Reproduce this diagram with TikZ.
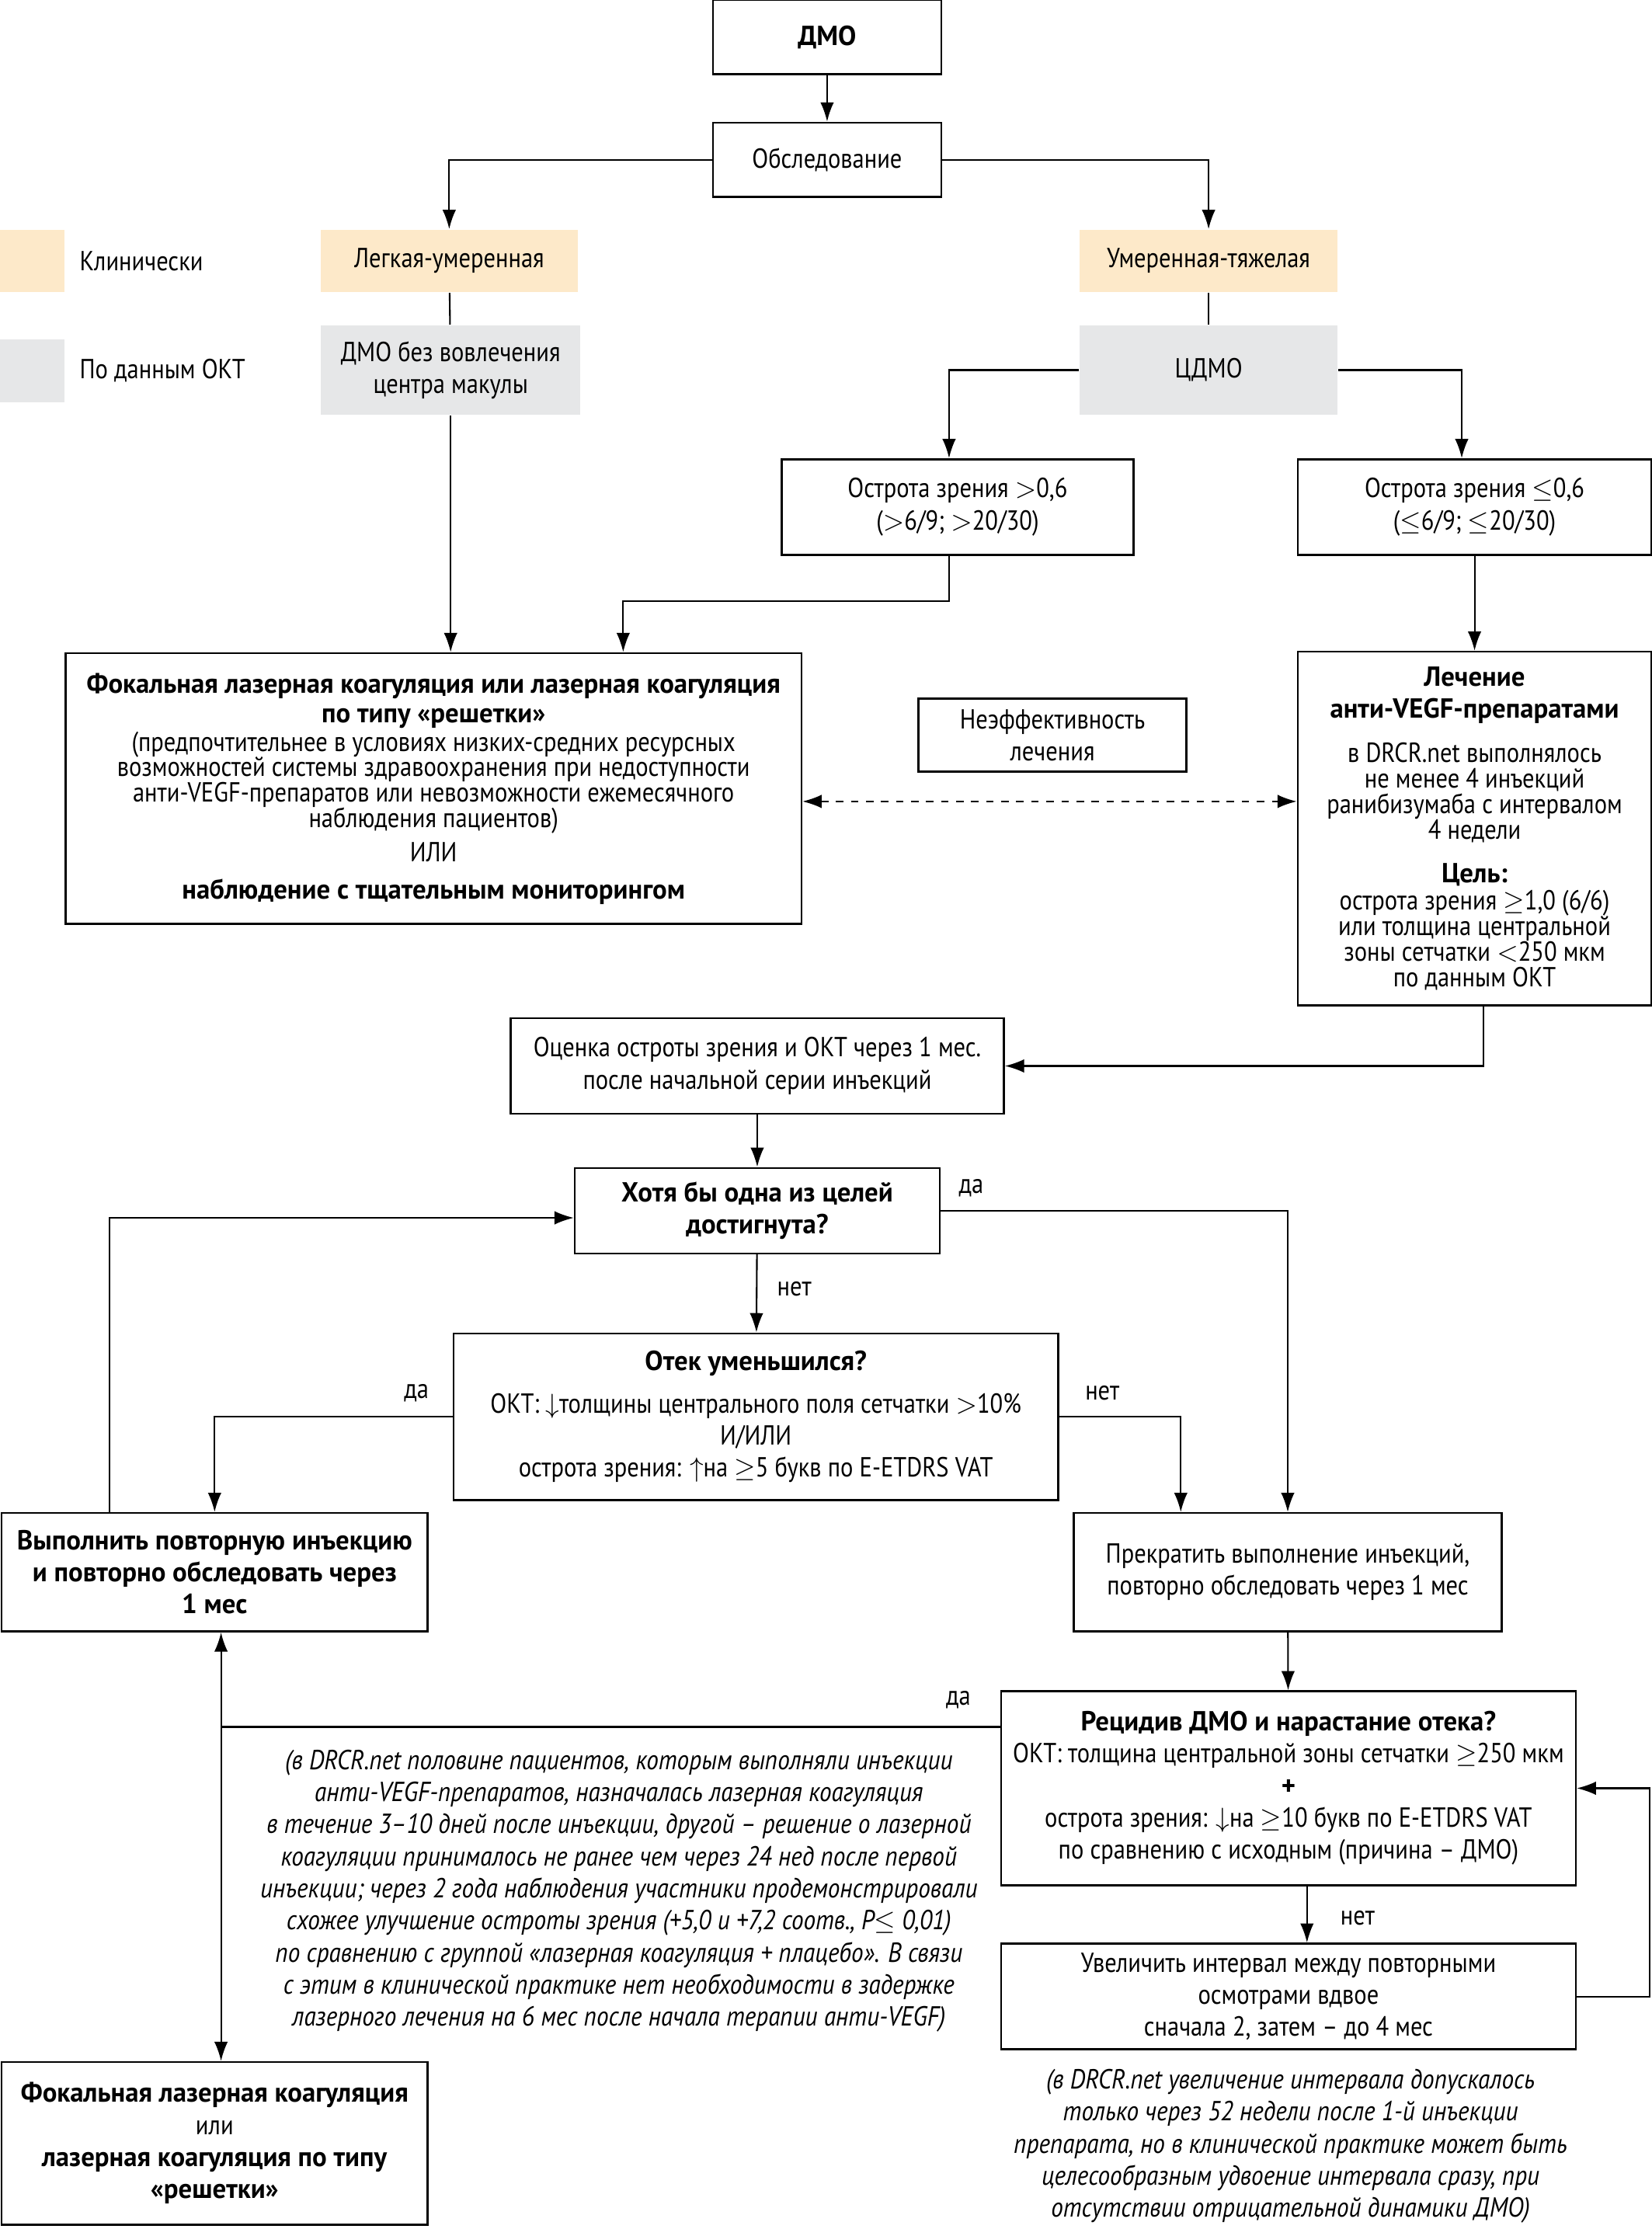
\documentclass[tikz,border=0pt]{standalone}
\usepackage{fontspec}
\setmainfont{PT Sans}[FakeStretch=0.86, BoldFeatures={FakeStretch=0.98}, ItalicFeatures={FakeStretch=0.88}]
\usepackage{tikz}
\usetikzlibrary{arrows.meta,positioning,calc}
\definecolor{peach}{HTML}{FDE9C9}
\definecolor{okGrey}{HTML}{E6E7E8}
\tikzset{
  box/.style={rectangle, draw=black, line width=0.8pt, align=center, inner sep=2pt, font=\fontsize{11}{12.8}\selectfont},
  tbox/.style={rectangle, align=center, inner sep=2pt, font=\fontsize{11}{12.8}\selectfont},
  arrow/.style={-{Latex[length=2.7mm,width=1.9mm]}, line width=0.65pt},
  softarrow/.style={{Latex[length=2.7mm,width=1.9mm]}-{Latex[length=2.7mm,width=1.9mm]}, line width=0.65pt, dashed},
  link/.style={line width=0.65pt},
  lbl/.style={inner sep=1pt, font=\fontsize{11}{12.8}\selectfont},
  note/.style={align=center, inner sep=0pt, font=\fontsize{11}{12.8}\selectfont\itshape}
}

\begin{document}
\begin{tikzpicture}[x=0.02cm, y=-0.02cm]
  \useasboundingbox (0,0) rectangle (1158,1568);
  \node[box, minimum width=3.2cm, minimum height=1.04cm] (dmo) at (580,26) {\textbf{ДМО}};
  \node[box, minimum width=3.2cm, minimum height=1.04cm] (exam) at (580,112) {Обследование};
  \node[tbox, fill=peach, minimum width=0.9cm, minimum height=0.88cm] (legClin) at (22.5,183) {};
  \node[tbox, fill=okGrey, minimum width=0.9cm, minimum height=0.88cm] (legOkt) at (22.5,260) {};
  \node[tbox, anchor=west] (legClinText) at (52,183) {Клинически};
  \node[tbox, anchor=west] (legOktText) at (52,260) {По данным ОКТ};
  \node[tbox, fill=peach, minimum width=3.6cm, minimum height=0.88cm] (mild) at (315,183) {Легкая-умеренная};
  \node[tbox, fill=okGrey, minimum width=3.64cm, minimum height=1.26cm] (nocenter) at (316,259.5) {ДМО без вовлечения\\центра макулы};
  \node[tbox, fill=peach, minimum width=3.62cm, minimum height=0.88cm] (severe) at (847.5,183) {Умеренная-тяжелая};
  \node[tbox, fill=okGrey, minimum width=3.62cm, minimum height=1.26cm] (cdmo) at (847.5,259.5) {ЦДМО};
  \node[box, minimum width=4.94cm, minimum height=1.34cm] (vaHigh) at (671.5,355.5) {Острота зрения $>$0,6\\($>$6/9; $>$20/30)};
  \node[box, minimum width=4.96cm, minimum height=1.34cm] (vaLow) at (1034,355.5) {Острота зрения $\leq$0,6\\($\leq$6/9; $\leq$20/30)};
  \node[box, minimum width=10.32cm, minimum height=3.8cm] (laser) at (304,553) {\textbf{Фокальная лазерная коагуляция или лазерная коагуляция}\\[-0.9pt] \textbf{по типу «решетки»}\\[-1.5pt] (предпочтительнее в условиях низких-средних ресурсных\\[-2.6pt] возможностей системы здравоохранения при недоступности\\[-2.6pt] анти-VEGF-препаратов или невозможности ежемесячного\\[-2.6pt] наблюдения пациентов)\\[0.8pt] ИЛИ\\[1.9pt] \textbf{наблюдение с тщательным мониторингом}};
  \node[box, minimum width=4.96cm, minimum height=4.96cm] (antivegf) at (1034,581) {\textbf{Лечение}\\ \textbf{анти-VEGF-препаратами}\\[4.8pt] в DRCR.net выполнялось\\[-2.6pt] не менее 4 инъекций\\[-2.6pt] ранибизумаба с интервалом\\[-2.6pt] 4 недели\\[4.8pt] \textbf{Цель:}\\[-2pt] острота зрения $\geq$1,0 (6/6)\\[-2.6pt] или толщина центральной\\[-2.6pt] зоны сетчатки $<$250 мкм\\[-2.6pt] по данным ОКТ};
  \node[box, minimum width=3.76cm, minimum height=1.02cm] (fail) at (738,515.5) {Неэффективность\\лечения};
  \node[box, minimum width=6.92cm, minimum height=1.34cm] (assess) at (531,747.5) {Оценка остроты зрения и ОКТ через 1 мес.\\после начальной серии инъекций};
  \node[box, minimum width=5.12cm, minimum height=1.2cm] (goal) at (531,849) {\textbf{Хотя бы одна из целей}\\ \textbf{достигнута?}};
  \node[box, minimum width=8.48cm, minimum height=2.34cm] (edema) at (530,993.5) {\textbf{Отек уменьшился?}\\[4.2pt] ОКТ: $\downarrow$толщины центрального поля сетчатки $>$10\%\\ И/ИЛИ\\ острота зрения: $\uparrow$на $\geq$5 букв по E-ETDRS VAT};
  \node[box, minimum width=5.98cm, minimum height=1.66cm] (repeat) at (150.5,1102.5) {\textbf{Выполнить повторную инъекцию}\\ \textbf{и повторно обследовать через}\\ \textbf{1 мес}};
  \node[box, minimum width=6cm, minimum height=1.66cm] (stop) at (903,1102.5) {Прекратить выполнение инъекций,\\повторно обследовать через 1 мес};
  \node[box, minimum width=8.06cm, minimum height=2.72cm] (relapse) at (903.5,1254) {\textbf{Рецидив ДМО и нарастание отека?}\\ ОКТ: толщина центральной зоны сетчатки $\geq$250 мкм\\ \textbf{+}\\ острота зрения: $\downarrow$на $\geq$10 букв по E-ETDRS VAT\\ по сравнению с исходным (причина – ДМО)};
  \node[box, minimum width=8.06cm, minimum height=1.48cm] (extend) at (903.5,1400) {Увеличить интервал между повторными\\осмотрами вдвое\\сначала 2, затем – до 4 мес};
  \node[box, minimum width=5.98cm, minimum height=2.28cm] (laser2) at (150.5,1503) {\textbf{Фокальная лазерная коагуляция}\\ или\\ \textbf{лазерная коагуляция по типу}\\ \textbf{«решетки»}};
  \node[note] (note1) at (434,1326) {(в DRCR.net половине пациентов, которым выполняли инъекции\\анти-VEGF-препаратов, назначалась лазерная коагуляция\\в течение 3–10 дней после инъекции, другой – решение о лазерной\\коагуляции принималось не ранее чем через 24 нед после первой\\инъекции; через 2 года наблюдения участники продемонстрировали\\схожее улучшение остроты зрения (+5,0 и +7,2 соотв., P$\leq$ 0,01)\\по сравнению с группой «лазерная коагуляция + плацебо». В связи\\с этим в клинической практике нет необходимости в задержке\\лазерного лечения на 6 мес после начала терапии анти-VEGF)};
  \node[note] (note2) at (905,1505) {(в DRCR.net увеличение интервала допускалось\\только через 52 недели после 1-й инъекции\\препарата, но в клинической практике может быть\\целесообразным удвоение интервала сразу, при\\отсутствии отрицательной динамики ДМО)};
  \node[lbl] (yesGoal) at (681,833) {да};
  \node[lbl] (noGoal) at (557,904) {нет};
  \node[lbl] (yesEdema) at (292,977) {да};
  \node[lbl] (noEdema) at (773,977) {нет};
  \node[lbl] (yesRelapse) at (672,1192) {да};
  \node[lbl] (noRelapse) at (952,1345) {нет};
  \draw[arrow] (dmo) -- (exam);
  \draw[arrow] (exam.west) -| (mild.north);
  \draw[arrow] (exam.east) -| (severe.north);
  \draw[link] (mild) -- (nocenter);
  \draw[link] (severe) -- (cdmo);
  \draw[arrow] (cdmo.west) -| ($(vaHigh.north)+(-6,0)$);
  \draw[arrow] (cdmo.east) -| ($(vaLow.north)+(-9,0)$);
  \draw[arrow] ($(vaHigh.south)+(-6,0)$) -- ++(0,32) -| ($(laser.north)+(133,0)$);
  \draw[arrow] (nocenter.south) -- (nocenter.south |- laser.north);
  \draw[arrow] (vaLow.south) -- (antivegf.north);
  \coordinate (dashy) at ($(laser.east)+(0,9)$);
  \draw[softarrow] (dashy) -- (dashy -| antivegf.west);
  \draw[arrow] ($(antivegf.south)+(6,0)$) |- (assess.east);
  \draw[arrow] (assess) -- (goal);
  \draw[arrow] (goal.east) -| (stop.north);
  \draw[arrow] (goal) -- (edema);
  \draw[arrow] (edema.west) -| (repeat.north);
  \draw[arrow] (edema.east) -| ($(stop.north)+(-75,0)$);
  \draw[arrow] ($(repeat.north)+(-73.5,0)$) |- ($(goal.west)+(0,5)$);
  \draw[arrow] (stop) -- (relapse);
  \coordinate (split) at (155,1211);
  \draw[link] (relapse.west |- split) -- (split);
  \draw[arrow] (split) -- (split |- repeat.south);
  \draw[arrow] (split) -- (split |- laser2.north);
  \draw[arrow] ($(relapse.south)+(13,0)$) -- ($(extend.north)+(13,0)$);
  \draw[arrow] (extend.east) -- ++(51,0) |- (relapse.east);
\end{tikzpicture}
\end{document}
